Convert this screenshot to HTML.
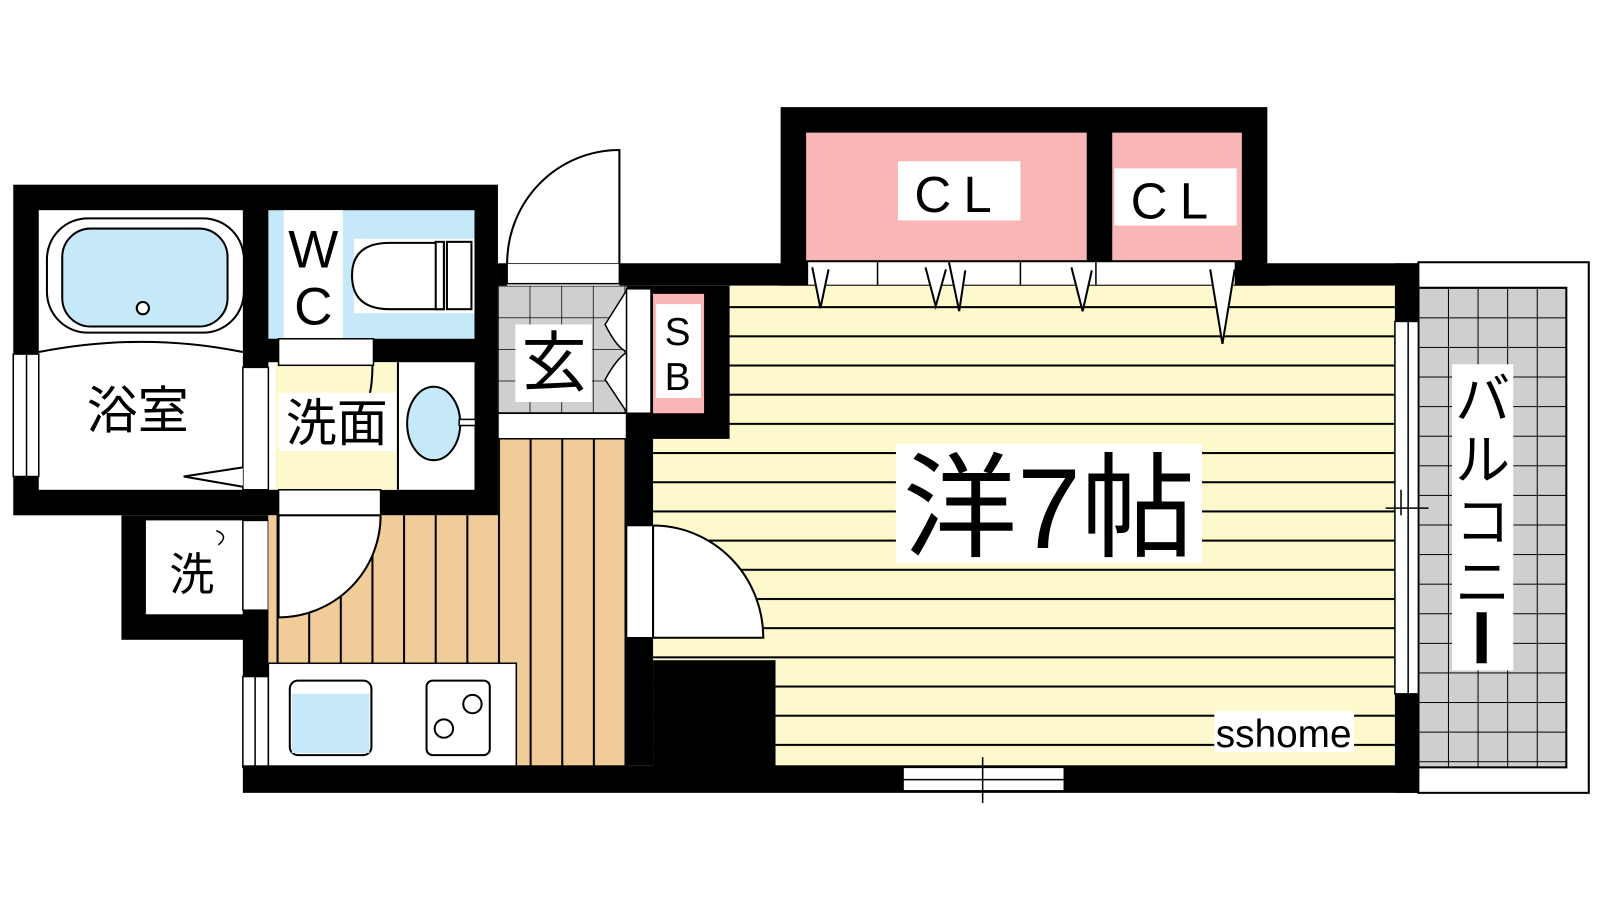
<!DOCTYPE html>
<html><head><meta charset="utf-8"><style>
html,body{margin:0;padding:0;background:#fff;width:1600px;height:900px;overflow:hidden}
svg{display:block}
text{font-family:"Liberation Sans","Noto Sans CJK JP",sans-serif;fill:#000}
</style></head><body>
<svg width="1600" height="900" viewBox="0 0 1568 882" preserveAspectRatio="none" xmlns="http://www.w3.org/2000/svg">
<defs>
<pattern id="hl" x="0" y="300" width="10" height="28.6" patternUnits="userSpaceOnUse"><rect width="10" height="28.6" fill="#fef9cc"/><rect y="0" width="10" height="2" fill="#000"/></pattern>
<pattern id="vl" x="302" y="0" width="31" height="10" patternUnits="userSpaceOnUse"><rect width="31" height="10" fill="#f0cc98"/><rect x="0" width="2" height="10" fill="#000"/></pattern>
<pattern id="tile" x="1390" y="282" width="29" height="29" patternUnits="userSpaceOnUse"><rect width="29" height="29" fill="#cfcfcf"/><path d="M0 0H29M0 0V29" stroke="#000" stroke-width="2"/></pattern>
<pattern id="tile2" x="488" y="280" width="31" height="31" patternUnits="userSpaceOnUse"><rect width="31" height="31" fill="#cfcfcf"/><path d="M0 0H31M0 0V31" stroke="#000" stroke-width="1.5"/></pattern>
</defs>

<rect x="1390" y="257" width="167" height="520" fill="#fff" stroke="#000" stroke-width="2"/>
<rect x="1390" y="282" width="145" height="470" fill="url(#tile)" stroke="#000" stroke-width="2"/>

<rect x="13" y="181" width="475" height="324" fill="#000"/>
<rect x="38" y="206" width="200" height="274" fill="#fff"/>
<rect x="263" y="206" width="202" height="126" fill="#c5e9f8"/>
<rect x="263" y="355" width="202" height="125" fill="#fff"/>
<rect x="270" y="355" width="120" height="125" fill="#fef9cc"/>
<line x1="390" y1="355" x2="390" y2="480" stroke="#000" stroke-width="2"/>
<rect x="273" y="332" width="93" height="26" fill="#fff" stroke="#000" stroke-width="1.5"/>
<rect x="238" y="360" width="25" height="120" fill="#fff" stroke="#000" stroke-width="1.5"/>
<path d="M238 458 L180 467 L238 477" fill="#fff" stroke="#000" stroke-width="2"/>
<rect x="46" y="214" width="193" height="112" rx="40" fill="#fff" stroke="#000" stroke-width="2"/>
<rect x="61" y="224" width="162" height="96" rx="28" fill="#c5e9f8" stroke="#000" stroke-width="2"/>
<circle cx="140" cy="302" r="6" fill="#fff" stroke="#000" stroke-width="2"/>
<path d="M38 345 Q140 325 238 345" fill="none" stroke="#000" stroke-width="2"/>
<rect x="13" y="347" width="25" height="120" fill="#fff" stroke="#000" stroke-width="1.5"/>
<line x1="26" y1="347" x2="26" y2="467" stroke="#000" stroke-width="1.5"/>
<rect x="347" y="234" width="118" height="73" fill="#fff"/>
<path d="M435 238 H382 Q345 238 345 270 Q345 303 382 303 H435 Z" fill="#fff" stroke="#000" stroke-width="2"/>
<rect x="438" y="237" width="24" height="66" fill="#fff" stroke="#000" stroke-width="2"/>
<rect x="427" y="237" width="8" height="66" fill="#fff" stroke="#000" stroke-width="2"/>
<ellipse cx="425" cy="415" rx="26" ry="36" fill="#c5e9f8" stroke="#000" stroke-width="2"/>
<rect x="450" y="411" width="16" height="6" fill="#fff" stroke="#000" stroke-width="1.5"/>
<path d="M273 440 Q300 440 320 430" fill="none" stroke="#000" stroke-width="2"/>
<path d="M365 358 Q365 380 360 395" fill="none" stroke="#000" stroke-width="2"/>

<rect x="119" y="505" width="144" height="122" fill="#000"/>
<rect x="143" y="510" width="95" height="92" fill="#fff"/>
<rect x="238" y="510" width="25" height="88" fill="#fff" stroke="#000" stroke-width="1.5"/>

<rect x="263" y="505" width="351" height="247" fill="url(#vl)"/>
<rect x="488" y="430" width="126" height="80" fill="url(#vl)"/>
<rect x="238" y="598" width="25" height="65" fill="#000"/>
<rect x="238" y="663" width="25" height="89" fill="#fff" stroke="#000" stroke-width="1.5"/>
<line x1="250" y1="663" x2="250" y2="752" stroke="#000" stroke-width="1.5"/>
<rect x="263" y="650" width="243" height="102" fill="#fff" stroke="#000" stroke-width="1.5"/>
<rect x="284" y="667" width="80" height="73" rx="8" fill="#fff" stroke="#000" stroke-width="2"/>
<rect x="286" y="680" width="76" height="58" fill="#c5e9f8"/>
<rect x="418" y="667" width="62" height="73" rx="6" fill="#fff" stroke="#000" stroke-width="2"/>
<circle cx="463" cy="690" r="9" fill="none" stroke="#000" stroke-width="2"/>
<circle cx="435" cy="714" r="9" fill="none" stroke="#000" stroke-width="2"/>
<rect x="273" y="480" width="100" height="25" fill="#fff" stroke="#000" stroke-width="1.5"/>
<path d="M273 505 V605 A100 100 0 0 0 373 505 Z" fill="#fff" stroke="#000" stroke-width="2"/>

<rect x="488" y="258" width="9" height="25" fill="#000"/>
<rect x="488" y="280" width="126" height="125" fill="url(#tile2)"/>
<rect x="488" y="405" width="126" height="25" fill="#fff" stroke="#000" stroke-width="1.5"/>
<rect x="497" y="258" width="110" height="20" fill="#fff" stroke="#000" stroke-width="1.5"/>
<path d="M607 258 V147 A110 111 0 0 0 497 258" fill="#fff" stroke="#000" stroke-width="2"/>

<rect x="607" y="258" width="783" height="22" fill="#000"/>
<rect x="640" y="280" width="727" height="472" fill="url(#hl)"/>
<rect x="614" y="280" width="26" height="470" fill="#000"/>
<path d="M615 283 L593 318 Q605 342 615 345 Q605 350 593 372 L615 405 Z" fill="#fff" stroke="#000" stroke-width="1.5"/>
<rect x="614" y="283" width="24" height="122" fill="#fff" stroke="#000" stroke-width="1.5"/>
<rect x="640" y="280" width="75" height="150" fill="#000"/>
<rect x="640" y="288" width="50" height="119" fill="#f9b6b6"/>
<rect x="614" y="405" width="100" height="25" fill="#000"/>
<rect x="614" y="515" width="26" height="110" fill="#fff" stroke="#000" stroke-width="1.5"/>
<path d="M640 625 H748 A108 110 0 0 0 640 515 Z" fill="#fff" stroke="#000" stroke-width="2"/>
<rect x="640" y="647" width="120" height="105" fill="#000"/>
<rect x="238" y="750" width="1152" height="27" fill="#000"/>
<rect x="885" y="752" width="158" height="23" fill="#fff" stroke="#000" stroke-width="1.5"/>
<line x1="885" y1="764" x2="1043" y2="764" stroke="#000" stroke-width="1.5"/>
<line x1="963" y1="742" x2="963" y2="787" stroke="#000" stroke-width="1.5"/>
<rect x="1367" y="258" width="23" height="519" fill="#000"/>
<rect x="1367" y="315" width="23" height="365" fill="#fff" stroke="#000" stroke-width="1.5"/>
<line x1="1380" y1="315" x2="1380" y2="680" stroke="#000" stroke-width="1.5"/>
<line x1="1358" y1="498" x2="1400" y2="498" stroke="#000" stroke-width="1.5"/>
<line x1="1373" y1="480" x2="1373" y2="505" stroke="#000" stroke-width="1.5"/>

<rect x="765" y="105" width="477" height="175" fill="#000"/>
<rect x="790" y="130" width="275" height="125" fill="#f9b6b6"/>
<rect x="1090" y="130" width="127" height="125" fill="#f9b6b6"/>
<rect x="792" y="257" width="418" height="22" fill="#fff"/>
<path d="M860 257V279M1000 257V279M1074 257V279" stroke="#000" stroke-width="1.5"/>
<path d="M796 262 L804 302 L812 264 M907 262 L917 300 L927 264 M930 257 L940 305 L946 265 M1050 262 L1061 305 L1070 265 M1186 264 L1198 337 L1210 264" fill="#fff" stroke="#000" stroke-width="2"/>

<rect x="278" y="206" width="58" height="125" fill="#fff"/>
<text x="307" y="262" font-size="52" text-anchor="middle">W</text>
<text x="307" y="318" font-size="52" text-anchor="middle">C</text>
<text x="135" y="420" font-size="50" text-anchor="middle">浴室</text>
<rect x="273" y="385" width="115" height="57" fill="#fff"/>
<text x="330" y="432" font-size="50" text-anchor="middle">洗面</text>
<text x="188" y="578" font-size="44" text-anchor="middle">洗</text>
<path d="M212 520 Q225 525 214 534" fill="none" stroke="#000" stroke-width="1.5"/>
<rect x="505" y="318" width="75" height="76" fill="#fff"/>
<text x="543" y="378" font-size="64" text-anchor="middle">玄</text>
<rect x="643" y="298" width="44" height="92" fill="#fff"/>
<text x="664" y="338" font-size="38" text-anchor="middle">S</text>
<text x="664" y="382" font-size="38" text-anchor="middle">B</text>
<rect x="880" y="158" width="120" height="58" fill="#fff"/>
<text x="940" y="208" font-size="50" text-anchor="middle" letter-spacing="12">CL</text>
<rect x="1092" y="165" width="120" height="56" fill="#fff"/>
<text x="1152" y="214" font-size="50" text-anchor="middle" letter-spacing="12">CL</text>
<rect x="878" y="435" width="300" height="117" fill="#fff"/>
<text x="1028" y="537" font-size="112" text-anchor="middle">洋7帖</text>
<rect x="1423" y="357" width="60" height="300" fill="#fff"/>
<text x="1453" y="410" font-size="54" text-anchor="middle">バ</text>
<text x="1453" y="470" font-size="54" text-anchor="middle">ル</text>
<text x="1453" y="530" font-size="54" text-anchor="middle">コ</text>
<text x="1453" y="590" font-size="54" text-anchor="middle">ニ</text>
<rect x="1447" y="600" width="10" height="50" fill="#000"/>
<rect x="1190" y="697" width="137" height="40" fill="#fff"/>
<text x="1258" y="732" font-size="38" text-anchor="middle">sshome</text>
</svg>
</body></html>
